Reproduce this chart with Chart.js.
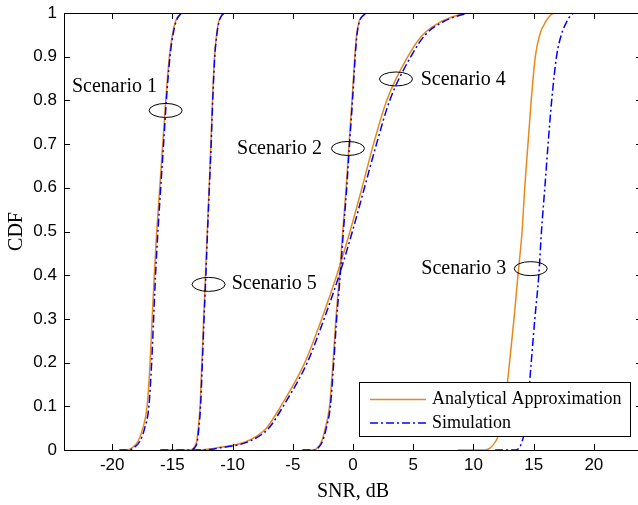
<!DOCTYPE html>
<html>
<head>
<meta charset="utf-8">
<script src="https://cdn.jsdelivr.net/npm/chart.js@4.4.1/dist/chart.umd.min.js"></script>
<style>
  html, body { margin: 0; padding: 0; background: #fff; overflow: hidden; }
  #wrap { width: 642px; height: 505px; }
</style>
</head>
<body>
<div id="wrap"><canvas id="cdfChart"></canvas></div>
<script>
// CDF levels shared by every curve (first/last repeated for the flat tails)
const cdfLevels = [0, 0, 0.005, 0.02, 0.05, 0.1, 0.2, 0.3, 0.4, 0.5, 0.6, 0.7, 0.8, 0.9, 0.95, 0.98, 0.995, 1, 1];

// SNR (dB) at each CDF level, analytical approximation
const analytic1 = [-19.4, -18.8, -18.35, -17.85, -17.45, -17.1, -16.85, -16.68, -16.5, -16.3, -16.05, -15.8, -15.55, -15.25, -15.0, -14.75, -14.45, -14.2, -13.1];
const analytic2 = [-4.2, -3.3, -2.95, -2.6, -2.3, -1.95, -1.66, -1.42, -1.12, -0.85, -0.57, -0.33, -0.08, 0.15, 0.3, 0.5, 0.85, 1.2, 2.4];
const analytic3 = [8.7, 10.9, 11.4, 11.85, 12.3, 12.6, 13.0, 13.37, 13.7, 14.04, 14.26, 14.53, 14.8, 15.14, 15.5, 16.0, 16.4, 16.8, 17.7];
const analytic4 = [-13.3, -12.8, -11.3, -8.8, -7.2, -6.0, -4.0, -2.6, -1.35, -0.25, 0.75, 1.7, 2.8, 4.55, 5.8, 7.3, 8.7, 9.6, 11.3];
const analytic5 = [-16.0, -13.6, -13.2, -12.98, -12.85, -12.7, -12.55, -12.4, -12.25, -12.1, -11.95, -11.8, -11.67, -11.5, -11.33, -11.15, -10.9, -10.6, -10.2];

// SNR (dB) at each CDF level, simulation
const sim1 = [-19.4, -18.6, -18.2, -17.7, -17.3, -16.95, -16.72, -16.56, -16.4, -16.2, -15.97, -15.73, -15.5, -15.2, -14.95, -14.7, -14.4, -14.15, -13.1];
const sim2 = [-4.2, -3.2, -2.88, -2.53, -2.22, -1.88, -1.6, -1.36, -1.06, -0.8, -0.52, -0.29, -0.04, 0.18, 0.33, 0.53, 0.88, 1.25, 2.4];
const sim3 = [11.8, 13.5, 13.8, 14.05, 14.3, 14.5, 14.8, 15.1, 15.43, 15.65, 15.93, 16.2, 16.5, 16.9, 17.3, 17.75, 18.1, 18.4, 19.0];
const sim4 = [-13.3, -12.6, -11.0, -8.6, -7.0, -5.8, -3.8, -2.4, -1.15, -0.05, 0.95, 1.95, 3.05, 4.8, 6.0, 7.5, 8.9, 9.8, 11.3];
const sim5 = [-16.0, -13.55, -13.15, -12.93, -12.8, -12.66, -12.51, -12.37, -12.22, -12.08, -11.93, -11.78, -11.65, -11.48, -11.31, -11.13, -10.88, -10.58, -10.2];

// axis ticks
const xTicks = [-20, -15, -10, -5, 0, 5, 10, 15, 20];
const yTicks = [0, 0.1, 0.2, 0.3, 0.4, 0.5, 0.6, 0.7, 0.8, 0.9, 1];

// scenario annotations (data units)
const noteLabels = ['Scenario 1', 'Scenario 2', 'Scenario 3', 'Scenario 4', 'Scenario 5'];
const ellipseX = [-15.56, -0.42, 14.76, 3.57, -11.99];
const ellipseY = [0.777, 0.69, 0.415, 0.849, 0.379];
const noteX = [-16.28, -2.57, 12.73, 5.62, -10.07];
const noteY = [0.831, 0.69, 0.414, 0.847, 0.38];
const noteAlign = ['right', 'right', 'right', 'left', 'left'];

const legendLabels = ['Analytical Approximation', 'Simulation'];

const ORANGE = '#E8891A';
const BLUE = '#0000FF';

function toPoints(xs) {
    return xs.map((x, i) => ({ x: x, y: cdfLevels[i] }));
}

const analyticSets = [analytic1, analytic2, analytic3, analytic4, analytic5];
const simSets = [sim1, sim2, sim3, sim4, sim5];

const datasets = [];
analyticSets.forEach(xs => {
    datasets.push({
        label: legendLabels[0],
        data: toPoints(xs),
        borderColor: ORANGE,
        borderWidth: 1.5,
        showLine: true,
        pointRadius: 0,
        cubicInterpolationMode: 'monotone',
        order: 2
    });
});
simSets.forEach(xs => {
    datasets.push({
        label: legendLabels[1],
        data: toPoints(xs),
        borderColor: BLUE,
        borderWidth: 1.5,
        borderDash: [8, 3, 2, 3],
        showLine: true,
        pointRadius: 0,
        cubicInterpolationMode: 'monotone',
        order: 1
    });
});

// box, inward ticks, ellipses, labels and legend
const decorations = {
    id: 'decorations',
    afterDatasetsDraw(chart) {
        const { ctx, chartArea: a, scales: { x, y } } = chart;
        ctx.save();
        ctx.strokeStyle = '#000';
        ctx.lineWidth = 1;
        ctx.strokeRect(a.left + 0.5, a.top + 0.5, a.right - a.left, a.bottom - a.top);

        const tl = 6;
        ctx.beginPath();
        xTicks.forEach(v => {
            const px = Math.round(x.getPixelForValue(v)) + 0.5;
            ctx.moveTo(px, a.bottom); ctx.lineTo(px, a.bottom - tl);
            ctx.moveTo(px, a.top); ctx.lineTo(px, a.top + tl);
        });
        yTicks.forEach(v => {
            const py = Math.round(y.getPixelForValue(v)) + 0.5;
            ctx.moveTo(a.left, py); ctx.lineTo(a.left + tl, py);
            ctx.moveTo(a.right, py); ctx.lineTo(a.right - tl, py);
        });
        ctx.stroke();

        // scenario ellipses + labels
        ctx.font = '20px "Liberation Serif", "Times New Roman", serif';
        ctx.fillStyle = '#000';
        ctx.textBaseline = 'middle';
        noteLabels.forEach((t, i) => {
            ctx.beginPath();
            ctx.ellipse(x.getPixelForValue(ellipseX[i]), y.getPixelForValue(ellipseY[i]), 16.5, 7, 0, 0, Math.PI * 2);
            ctx.stroke();
            ctx.textAlign = noteAlign[i];
            ctx.fillText(t, x.getPixelForValue(noteX[i]), y.getPixelForValue(noteY[i]));
        });

        // legend
        const bw = 271, bh = 54;
        const bx = a.right - 12 - bw, by = a.bottom - 14 - bh;
        ctx.fillStyle = '#fff';
        ctx.fillRect(bx, by, bw, bh);
        ctx.strokeRect(bx + 0.5, by + 0.5, bw, bh);
        ctx.font = '18px "Liberation Serif", "Times New Roman", serif';
        ctx.textAlign = 'left';
        const rows = [datasets[0], datasets[5]];
        rows.forEach((ds, i) => {
            const ry = by + 17.5 + i * 23.5;
            ctx.beginPath();
            ctx.strokeStyle = ds.borderColor;
            ctx.lineWidth = 1.5;
            ctx.setLineDash(ds.borderDash || []);
            ctx.moveTo(bx + 11, ry); ctx.lineTo(bx + 67, ry);
            ctx.stroke();
            ctx.setLineDash([]);
            ctx.fillStyle = '#000';
            ctx.fillText(ds.label, bx + 73, ry);
        });
        ctx.restore();
    }
};

new Chart(document.getElementById('cdfChart'), {
    type: 'scatter',
    data: { datasets: datasets },
    options: {
        responsive: true,
        maintainAspectRatio: false,
        animation: false,
        layout: { padding: { top: 13, right: 0, left: 0, bottom: 0 } },
        plugins: { legend: { display: false }, tooltip: { enabled: false } },
        scales: {
            x: {
                type: 'linear',
                min: -24,
                max: 24,
                afterBuildTicks: s => { s.ticks = xTicks.map(v => ({ value: v })); },
                afterFit: s => { s.height = 55; s.paddingLeft = 0; s.paddingRight = 0; },
                grid: { display: false, drawTicks: false },
                border: { display: true, color: '#000', width: 1 },
                ticks: {
                    color: '#000',
                    padding: 5,
                    maxRotation: 0,
                    font: { family: '"Liberation Sans", Arial, sans-serif', size: 17 }
                },
                title: {
                    display: true,
                    text: 'SNR, dB',
                    color: '#000',
                    padding: { top: 0, bottom: 1 },
                    font: { family: '"Liberation Serif", "Times New Roman", serif', size: 20 }
                }
            },
            y: {
                type: 'linear',
                min: 0,
                max: 1,
                afterBuildTicks: s => { s.ticks = yTicks.map(v => ({ value: v })); },
                afterFit: s => { s.width = 64; s.paddingTop = 0; s.paddingBottom = 0; },
                grid: { display: false, drawTicks: false },
                border: { display: true, color: '#000', width: 1 },
                ticks: {
                    color: '#000',
                    padding: 7,
                    font: { family: '"Liberation Sans", Arial, sans-serif', size: 17 },
                    callback: v => String(Math.round(v * 10) / 10)
                },
                title: {
                    display: true,
                    text: 'CDF',
                    color: '#000',
                    padding: { top: 5, bottom: 0 },
                    font: { family: '"Liberation Serif", "Times New Roman", serif', size: 20 }
                }
            }
        }
    },
    plugins: [decorations]
});
</script>
</body>
</html>
